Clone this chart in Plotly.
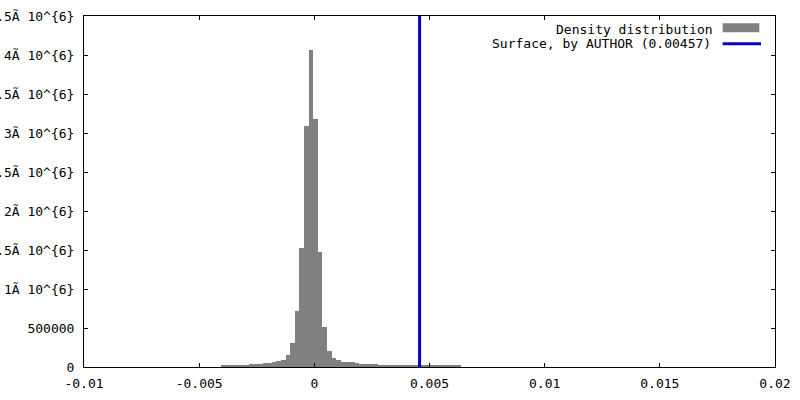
import plotly.graph_objects as go

# histogram of the density distribution, bins of width 0.0002
bin_first_center = -0.00395
bin_width = 0.0002
bin_counts = [
    16000, 18000, 20000, 20000, 22000, 30000, 33000, 38000, 44000, 46000,
    55000, 59000, 72000, 94000, 158000, 312000, 714000, 1520000, 3090000,
    4070000,
    3180000, 1480000, 508000, 200000, 115000, 85000, 70000, 66000, 59000,
    48000, 44000, 36000, 34000, 33000, 32000, 30000,
    22000, 21000, 20000, 20000, 19000, 19000, 18000, 18000, 17000, 17000,
    16000, 16000, 15000, 15000, 14000, 14000,
]

surface_value = 0.00457

x_range = [-0.01, 0.02]
x_ticks = [-0.01, -0.005, 0, 0.005, 0.01, 0.015, 0.02]
x_labels = ["-0.01", "-0.005", "0", "0.005", "0.01", "0.015", "0.02"]

y_range = [0, 4500000]
y_ticks = [0, 500000, 1000000, 1500000, 2000000, 2500000,
           3000000, 3500000, 4000000, 4500000]
y_labels = ["0", "500000", "1Ã 10^{6}", "1.5Ã 10^{6}", "2Ã 10^{6}",
            "2.5Ã 10^{6}", "3Ã 10^{6}", "3.5Ã 10^{6}", "4Ã 10^{6}",
            "4.5Ã 10^{6}"]

grey = "#808080"
blue = "#0000cc"
font = {"family": "DejaVu Sans Mono", "size": 13, "color": "black"}

margins = {"l": 84, "r": 25, "t": 16, "b": 33}
W, H = 800, 400
plot_w = W - margins["l"] - margins["r"]
plot_h = H - margins["t"] - margins["b"]


def px(x):
    return (x - margins["l"]) / plot_w


def py(y):
    return (H - margins["b"] - y) / plot_h


fig = go.Figure()
fig.add_trace(go.Bar(
    x0=bin_first_center, dx=bin_width, y=bin_counts,
    width=bin_width,
    marker={"color": grey, "line": {"width": 0}},
    name="Density distribution",
))
fig.add_vline(x=surface_value, line={"color": blue, "width": 3})

# gnuplot style key: text right aligned, sample on the right
fig.add_annotation(text="Density distribution", xref="paper", yref="paper",
                   x=px(714.5), y=py(29), xanchor="right", yanchor="middle",
                   showarrow=False, font=font)
fig.add_annotation(text=f"Surface, by AUTHOR ({surface_value})",
                   xref="paper", yref="paper",
                   x=px(712.5), y=py(43.5), xanchor="right", yanchor="middle",
                   showarrow=False, font=font)
fig.add_shape(type="rect", xref="paper", yref="paper",
              x0=px(722.7), x1=px(759.3), y0=py(32.3), y1=py(23.3),
              fillcolor=grey, line={"width": 0})
fig.add_shape(type="line", xref="paper", yref="paper",
              x0=px(722.7), x1=px(761), y0=py(43.7), y1=py(43.7),
              line={"color": blue, "width": 3})

axis_style = {
    "showline": True, "linecolor": "black", "linewidth": 1,
    "mirror": "ticks", "ticks": "inside", "ticklen": 4,
    "tickcolor": "black", "tickwidth": 1,
    "showgrid": False, "zeroline": False,
    "tickfont": font, "automargin": False,
}

fig.update_layout(
    width=W, height=H,
    margin=margins,
    plot_bgcolor="white", paper_bgcolor="white",
    bargap=0,
    showlegend=False,
    xaxis={**axis_style, "range": x_range, "tickvals": x_ticks,
           "ticktext": x_labels, "ticklabelstandoff": 4},
    yaxis={**axis_style, "range": y_range, "tickvals": y_ticks,
           "ticktext": y_labels, "ticklabelstandoff": 6},
)

# the page body has an 8px default margin; drop it so the figure sits at 0,0
fig.write_html("out.html", config={"displayModeBar": False},
               post_script="document.body.style.margin='0';")
